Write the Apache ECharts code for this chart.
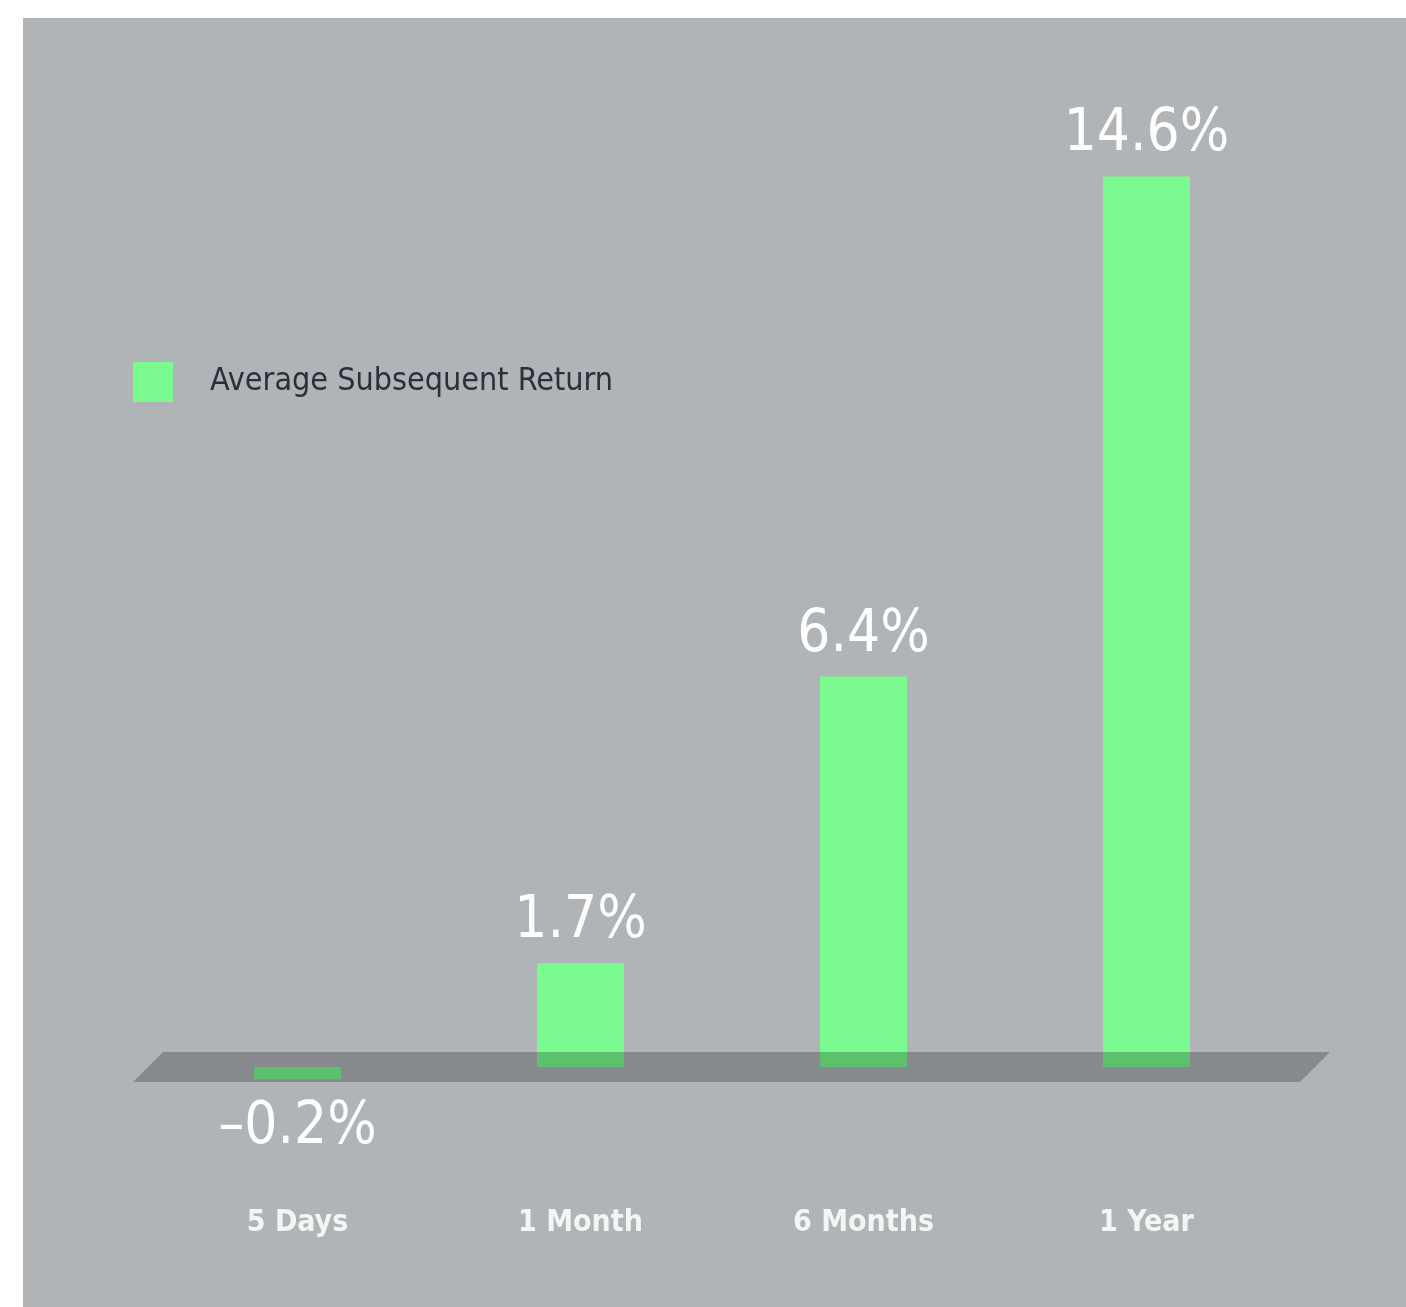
<!DOCTYPE html>
<html>
<head>
<meta charset="utf-8">
<script src="https://cdn.jsdelivr.net/npm/echarts@6/dist/echarts.min.js"></script>
<style>
  html, body { margin: 0; padding: 0; background: #ffffff; }
  #main { width: 1406px; height: 1307px; }
</style>
</head>
<body>
<div id="main"></div>
<script>
var periods = ['5 Days', '1 Month', '6 Months', '1 Year'];
var avgReturn = [-0.2, 1.7, 6.4, 14.6];
var seriesName = 'Average Subsequent Return';

var condensed = '"Liberation Sans Narrow", "DejaVu Sans Condensed", sans-serif';

var myChart = echarts.init(document.getElementById('main'));

myChart.setOption({
  backgroundColor: '#ffffff',
  animation: false,
  graphic: [
    {
      id: 'bg',
      type: 'rect',
      z: -10,
      shape: { x: 23, y: 18, width: 1383, height: 1289 },
      style: { fill: '#b0b4b7' }
    }
  ],
  legend: {
    left: 128,
    top: 357,
    itemWidth: 40,
    itemHeight: 40,
    icon: 'rect',
    data: [seriesName],
    textStyle: {
      color: '#27303b',
      fontSize: 32,
      fontFamily: condensed,
      padding: [0, 0, 0, 32]
    }
  },
  grid: {
    left: 156,
    width: 1132,
    top: 91,
    height: 1098
  },
  xAxis: {
    type: 'category',
    data: periods,
    axisLine: { show: false },
    axisTick: { show: false },
    axisLabel: {
      color: '#f4f5f5',
      fontSize: 30,
      fontWeight: 'bold',
      fontFamily: condensed,
      margin: 19
    }
  },
  yAxis: {
    type: 'value',
    min: -2,
    max: 16,
    show: false,
    splitLine: { show: false }
  },
  series: [
    {
      name: seriesName,
      type: 'bar',
      barWidth: 87,
      itemStyle: { color: '#7afa8f' },
      data: avgReturn.map(function (v) {
        var d = { value: v };
        if (v < 0) {
          d.label = { position: 'bottom', distance: 20 };
        }
        return d;
      }),
      label: {
        show: true,
        position: 'top',
        distance: 12,
        color: '#ffffff',
        fontSize: 58,
        fontFamily: condensed,
        formatter: function (p) {
          var v = p.value;
          return (v < 0 ? '\u2013' : '') + Math.abs(v).toFixed(1) + '%';
        }
      }
    }
  ]
});

// shaded floor plane drawn across the zero line
var zeroY = myChart.convertToPixel({ yAxisIndex: 0 }, 0);
myChart.setOption({
  graphic: [
    {
      id: 'floor',
      type: 'polygon',
      z: 10,
      shape: {
        points: [
          [163, zeroY - 15],
          [1330, zeroY - 15],
          [1300, zeroY + 15],
          [133, zeroY + 15]
        ]
      },
      style: { fill: 'rgba(0, 0, 0, 0.23)' }
    }
  ]
});
</script>
</body>
</html>
